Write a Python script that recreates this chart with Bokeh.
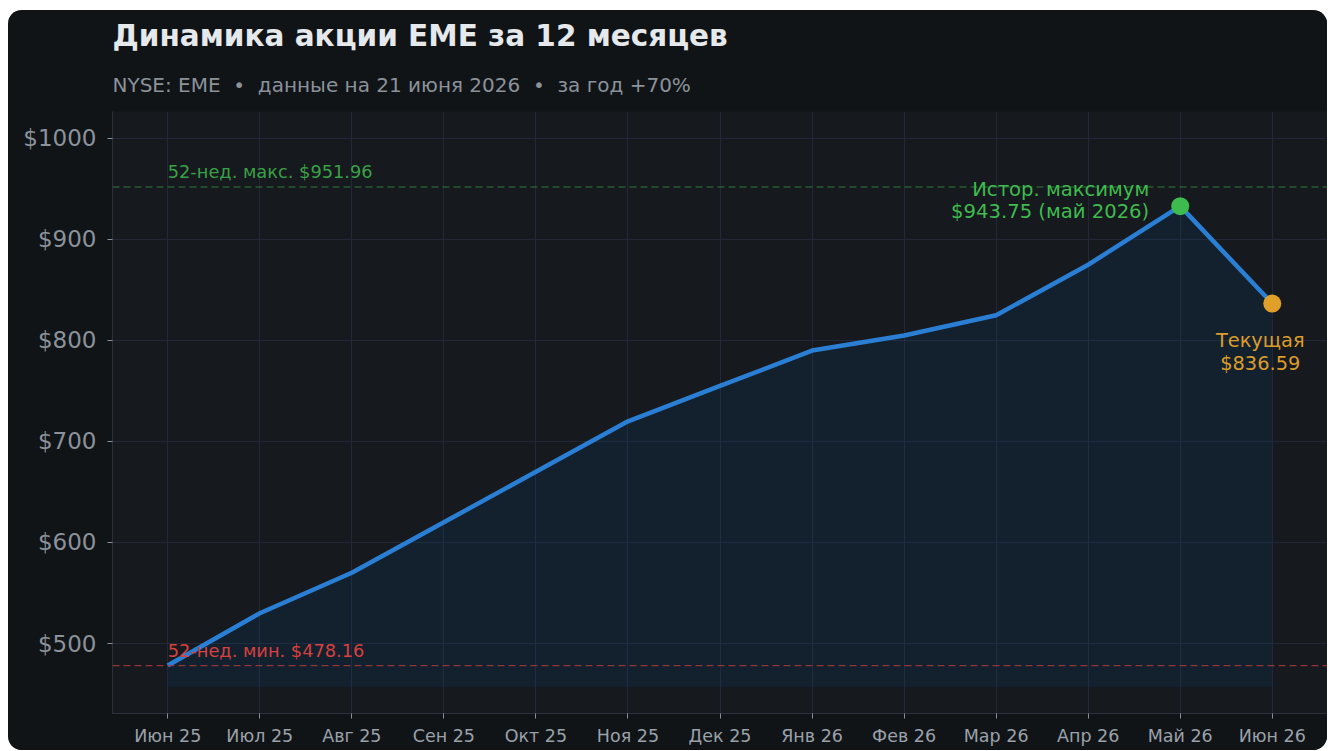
from bokeh.plotting import figure
from bokeh.models import Range1d, FixedTicker, Span, Label, Title, PrintfTickFormatter
from bokeh.embed import file_html
from bokeh.resources import INLINE

# ---- data ----
months = ["Июн 25", "Июл 25", "Авг 25", "Сен 25", "Окт 25", "Ноя 25", "Дек 25",
          "Янв 26", "Фев 26", "Мар 26", "Апр 26", "Май 26", "Июн 26"]
prices = [478.16, 530, 570, 620, 670, 720, 755, 790, 805, 825, 875, 933, 836.59]
y_ticks = [500, 600, 700, 800, 900, 1000]
high_52 = 951.96
low_52 = 478.16
fill_base = 457
ath_idx = 11
cur_idx = 12

NB = "\u00a0"
title_text = "Динамика акции EME за 12 месяцев"
subtitle_text = ("NYSE: EME" + NB * 2 + "•" + NB * 2 + "данные на 21 июня 2026"
                 + NB * 2 + "•" + NB * 2 + "за год +70%")
high_label = "52-нед. макс. $951.96"
low_label = "52-нед. мин. $478.16"
ath_lines = ["Истор. максимум", "$943.75 (май 2026)"]
cur_lines = ["Текущая", "$836.59"]

FONT = "DejaVu Sans"
xs = list(range(len(months)))

p = figure(width=1319, height=740, output_backend="svg", toolbar_location=None,
           title=None, outline_line_color=None,
           x_range=Range1d(-0.6, 12.6), y_range=Range1d(430.7, 1026.7),
           min_border_left=104, min_border_right=0, min_border_top=101,
           min_border_bottom=37)
p.margin = (10, 2, 0, 8)
p.styles = {"border-radius": "14px", "overflow": "hidden",
            "background-color": "#101417"}
p.background_fill_color = "#16191d"
p.border_fill_color = "#101417"

sub = Title(text=subtitle_text, align="left", text_font=FONT, text_font_size="20px",
            text_color="#8b929a", text_font_style="normal", standoff=30,
            border_line_color=None, background_fill_color=None)
ttl = Title(text=title_text, align="left", text_font=FONT, text_font_size="29.5px",
            text_color="#e6e9ec", text_font_style="bold", standoff=6,
            border_line_color=None, background_fill_color=None)
p.add_layout(sub, "above")
p.add_layout(ttl, "above")

# grid
p.xgrid.grid_line_color = "#232838"
p.ygrid.grid_line_color = "#232838"
p.xgrid.ticker = FixedTicker(ticks=xs)
p.ygrid.ticker = FixedTicker(ticks=y_ticks)

# axes
p.xaxis.ticker = FixedTicker(ticks=xs)
p.xaxis.major_label_overrides = {i: m for i, m in enumerate(months)}
p.yaxis.ticker = FixedTicker(ticks=y_ticks)
p.yaxis.formatter = PrintfTickFormatter(format="$%d")
for ax in (p.xaxis, p.yaxis):
    ax.axis_line_color = "#2b303d"
    ax.major_tick_line_color = "#8a909a"
    ax.minor_tick_line_color = None
    ax.major_tick_in = 0
    ax.major_tick_out = 5
    ax.major_label_text_font = FONT
p.yaxis.major_label_text_font_size = "23px"
p.yaxis.major_label_text_color = "#8b929b"
p.yaxis.major_label_standoff = 11
p.xaxis.major_label_text_font_size = "17.5px"
p.xaxis.major_label_text_color = "#9aa1aa"
p.xaxis.major_label_standoff = 7

# area + line
p.varea(x=xs, y1=[fill_base] * len(xs), y2=prices, fill_color="#0c4177", fill_alpha=0.2)
p.line(xs, prices, line_color="#2a7fd4", line_width=4.5)

# 52-week lines
p.add_layout(Span(location=high_52, dimension="width", line_color="#2f8f3e",
                  line_dash="7 4", line_width=1.2, line_alpha=0.85))
p.add_layout(Span(location=low_52, dimension="width", line_color="#a8383c",
                  line_dash="7 4", line_width=1.2, line_alpha=0.85))
p.add_layout(Label(x=0, y=high_52, y_offset=15, text=high_label, text_align="left",
                   text_baseline="middle", text_font=FONT, text_font_size="17.8px",
                   text_color="#3aa047"))
p.add_layout(Label(x=0, y=low_52, y_offset=15, text=low_label, text_align="left",
                   text_baseline="middle", text_font=FONT, text_font_size="17.8px",
                   text_color="#d6403f"))

# markers
p.scatter([xs[ath_idx]], [prices[ath_idx]], size=18, fill_color="#3dbb4f",
          line_color=None)
p.scatter([xs[cur_idx]], [prices[cur_idx]], size=18, fill_color="#e09f28",
          line_color=None)

for txt, dy in zip(ath_lines, [17, -5]):
    p.add_layout(Label(x=xs[ath_idx], y=prices[ath_idx], x_offset=-31, y_offset=dy,
                       text=txt, text_align="right", text_baseline="middle",
                       text_font=FONT, text_font_size="19.6px", text_color="#3fbb4f"))
for txt, dy in zip(cur_lines, [-37, -60]):
    p.add_layout(Label(x=xs[cur_idx], y=prices[cur_idx], x_offset=-12, y_offset=dy,
                       text=txt, text_align="center", text_baseline="middle",
                       text_font=FONT, text_font_size="19.4px", text_color="#dc9c2c"))

open("out.html", "w").write(file_html(p, INLINE))
